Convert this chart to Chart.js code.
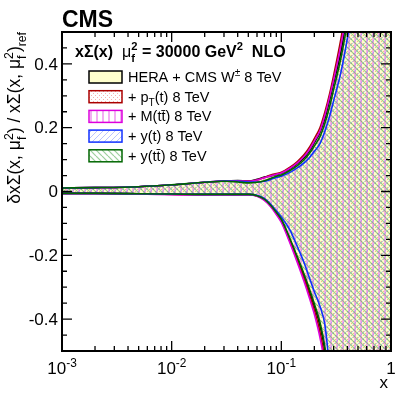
<!DOCTYPE html>
<html><head><meta charset="utf-8">
<script src="https://cdn.jsdelivr.net/npm/chart.js@4/dist/chart.umd.min.js"></script>
<style>html,body{margin:0;padding:0;background:#fff;overflow:hidden}</style>
</head><body>
<canvas id="c" width="411" height="396" style="width:411px;height:396px"></canvas>
<script>
// ---- data ----
const xValues = [0.001,0.002,0.005,0.01,0.02,0.03,0.04,0.05,0.06,0.07,0.08,0.09,0.1,0.12,0.14,0.16,0.18,0.2,0.225,0.25,0.275,0.3,0.35,0.4,0.5,0.7,1.0];

const heraUpper = [0.011,0.012,0.015,0.021,0.029,0.033,0.034,0.033,0.038,0.045,0.049,0.053,0.057,0.071,0.087,0.105,0.127,0.153,0.185,0.23,0.285,0.34,0.44,0.56,0.8,1.3,2.1];
const heraLower = [-0.006,-0.006,-0.007,-0.008,-0.009,-0.009,-0.009,-0.009,-0.013,-0.025,-0.044,-0.067,-0.09,-0.152,-0.21,-0.262,-0.312,-0.36,-0.42,-0.5,-0.62,-0.78,-1.0,-1.3,-1.8,-2.8,-3.8];

const ptUpper = [0.011,0.012,0.015,0.021,0.029,0.033,0.033,0.032,0.036,0.044,0.052,0.056,0.060,0.076,0.094,0.114,0.138,0.166,0.20,0.25,0.305,0.364,0.48,0.60,0.85,1.4,2.2];
const ptLower = [-0.006,-0.006,-0.007,-0.009,-0.010,-0.010,-0.010,-0.010,-0.014,-0.026,-0.046,-0.069,-0.093,-0.157,-0.217,-0.27,-0.322,-0.372,-0.44,-0.53,-0.66,-0.82,-1.05,-1.35,-1.9,-2.9,-3.9];

const mttUpper = [0.011,0.012,0.015,0.021,0.029,0.033,0.033,0.032,0.036,0.043,0.049,0.054,0.058,0.073,0.090,0.109,0.131,0.158,0.19,0.24,0.295,0.35,0.46,0.58,0.82,1.35,2.15];
const mttLower = [-0.007,-0.007,-0.008,-0.010,-0.011,-0.011,-0.011,-0.011,-0.015,-0.028,-0.048,-0.072,-0.097,-0.162,-0.223,-0.279,-0.333,-0.385,-0.458,-0.55,-0.7,-0.85,-1.1,-1.4,-2.0,-3.0,-4.0];

const ytUpper = [0.011,0.012,0.015,0.021,0.029,0.033,0.032,0.030,0.030,0.032,0.038,0.044,0.048,0.060,0.074,0.089,0.106,0.126,0.15,0.19,0.235,0.285,0.375,0.48,0.7,1.15,1.9];
const ytLower = [-0.006,-0.006,-0.007,-0.008,-0.009,-0.009,-0.009,-0.009,-0.012,-0.022,-0.040,-0.060,-0.080,-0.121,-0.173,-0.220,-0.270,-0.314,-0.36,-0.42,-0.56,-0.75,-1.0,-1.3,-1.8,-2.8,-3.8];

const yttUpper = [0.011,0.012,0.015,0.021,0.029,0.032,0.030,0.027,0.029,0.034,0.041,0.048,0.052,0.066,0.081,0.098,0.119,0.143,0.172,0.215,0.265,0.32,0.42,0.53,0.76,1.25,2.0];
const yttLower = [-0.006,-0.006,-0.007,-0.008,-0.009,-0.009,-0.009,-0.009,-0.013,-0.024,-0.043,-0.065,-0.087,-0.148,-0.205,-0.256,-0.305,-0.352,-0.41,-0.49,-0.61,-0.77,-1.0,-1.3,-1.8,-2.8,-3.8];

const yTicks = [-0.4,-0.2,0,0.2,0.4];
const yTickLabels = ['-0.4','-0.2','0','0.2','0.4'];
const xTicks = [0.001,0.01,0.1,1];
const xTickLabels = [['10','-3'],['10','-2'],['10','-1'],['1','']];

// ---- patterns ----
function makePattern(w,h,draw){const c=document.createElement('canvas');c.width=w;c.height=h;const g=c.getContext('2d');draw(g,w,h);return g.createPattern(c,'repeat');}
const patYellow = '#ffffcc';
const patRed = makePattern(4,4,(g)=>{g.fillStyle='rgba(240,110,110,0.55)';g.fillRect(1,1,1,1);g.fillRect(3,3,1,1);});
const patMag = makePattern(6,6,(g)=>{g.fillStyle='rgba(240,140,240,0.7)';g.fillRect(0,0,2,6);});
const patBlue = makePattern(6,6,(g)=>{g.strokeStyle='rgba(120,140,255,0.5)';g.lineWidth=1;for(const k of [-6,0,6]){g.beginPath();g.moveTo(k,6);g.lineTo(k+6,0);g.stroke();}});
const patGreen = makePattern(6,6,(g)=>{g.strokeStyle='rgba(90,175,90,0.6)';g.lineWidth=1.2;for(const k of [-6,0,6]){g.beginPath();g.moveTo(k,0);g.lineTo(k+6,6);g.stroke();}});

const series = [
  {up:heraUpper, lo:heraLower, col:'#000000', fill:patYellow, order:10},
  {up:ptUpper, lo:ptLower, col:'#aa0000', fill:patRed, order:8},
  {up:mttUpper, lo:mttLower, col:'#dd00dd', fill:patMag, order:6},
  {up:ytUpper, lo:ytLower, col:'#1030ff', fill:patBlue, order:4},
  {up:yttUpper, lo:yttLower, col:'#006600', fill:patGreen, order:2},
];
const datasets=[];
series.forEach((s,i)=>{
  datasets.push({data:xValues.map((x,j)=>({x,y:s.up[j]})), borderColor:s.col, backgroundColor:s.fill, borderWidth:1.6, pointRadius:0, fill:{target:2*i+1}, cubicInterpolationMode:'monotone', order:s.order});
  datasets.push({data:xValues.map((x,j)=>({x,y:s.lo[j]})), borderColor:s.col, backgroundColor:s.fill, borderWidth:1.6, pointRadius:0, fill:false, cubicInterpolationMode:'monotone', order:s.order-1});
});

const FONT='"Liberation Sans", Arial, sans-serif';
function rich(ctx,x,y,segs,size){
  let cx=x;
  for(const s of segs){
    const sz = (s.sup||s.sub)? size*0.7 : size;
    ctx.font=(s.b?'bold ':'')+sz+'px '+FONT;
    const dy = s.sup? -size*0.42 : (s.sub? size*0.32 : 0);
    ctx.fillText(s.t,cx,y+dy);
    if(!s.noadv) cx+=ctx.measureText(s.t).width;
  }
  return cx-x;
}
function richWidth(ctx,segs,size){
  let w=0;for(const s of segs){const sz=(s.sup||s.sub)?size*0.7:size;ctx.font=(s.b?'bold ':'')+sz+'px '+FONT;if(!s.noadv)w+=ctx.measureText(s.t).width;}return w;
}

const decor = {
  id:'decor',
  afterDraw(chart){
    const ctx=chart.ctx, a=chart.chartArea, xs=chart.scales.x, ys=chart.scales.y;
    ctx.save();
    ctx.fillStyle='#000';ctx.strokeStyle='#000';
    ctx.lineWidth=2;
    ctx.strokeRect(a.left,a.top,a.right-a.left,a.bottom-a.top);
    ctx.lineWidth=1.3;
    for(let k=-10;k<=10;k++){
      const v=k*0.05;
      const py=ys.getPixelForValue(v);
      const L=(k%4===0)?10:5;
      ctx.beginPath();ctx.moveTo(a.left,py);ctx.lineTo(a.left+L,py);ctx.moveTo(a.right,py);ctx.lineTo(a.right-L,py);ctx.stroke();
    }
    for(let d=-3;d<0;d++){
      for(let m=1;m<=9;m++){
        const v=m*Math.pow(10,d);const px=xs.getPixelForValue(v);
        const L=m===1?10:5;
        ctx.beginPath();ctx.moveTo(px,a.bottom);ctx.lineTo(px,a.bottom-L);ctx.moveTo(px,a.top);ctx.lineTo(px,a.top+L);ctx.stroke();
      }
    }
    ctx.font='17px '+FONT;ctx.textAlign='right';ctx.textBaseline='middle';
    yTicks.forEach((v,i)=>{ctx.fillText(yTickLabels[i],a.left-4,ys.getPixelForValue(v)+1);});
    ctx.textAlign='left';ctx.textBaseline='alphabetic';
    xTicks.forEach((v,i)=>{
      const segs=[{t:xTickLabels[i][0]}];
      if(xTickLabels[i][1]) segs.push({t:xTickLabels[i][1],sup:true});
      const w=richWidth(ctx,segs,17);
      rich(ctx,xs.getPixelForValue(v)-w/2,a.bottom+23,segs,17);
    });
    ctx.font='17px '+FONT;ctx.textAlign='right';
    ctx.fillText('x',a.right-3,a.bottom+37);
    ctx.textAlign='left';
    ctx.save();
    ctx.translate(20,a.top);ctx.rotate(-Math.PI/2);
    const ys1=[{t:'δxΣ(x, μ'},{t:'f',sub:true,noadv:true},{t:'2',sup:true},{t:') / xΣ(x, μ'},{t:'f',sub:true,noadv:true},{t:'2',sup:true},{t:')'},{t:'ref',sub:true}];
    const tw=richWidth(ctx,ys1,17.5);
    rich(ctx,-tw,0,ys1,17.5);
    ctx.restore();
    ctx.font='bold 23px '+FONT;ctx.fillText('CMS',a.left,27);
    rich(ctx,75,57,[{t:'xΣ(x)',b:true}],16);
    rich(ctx,122,57,[{t:'μ'},{t:'f',sub:true,b:true,noadv:true},{t:'2',sup:true,b:true}],16);
    rich(ctx,142,57,[{t:'= 30000 GeV',b:true},{t:'2',sup:true,b:true},{t:'  NLO',b:true}],16);
    const legTexts=[
      [{t:'HERA + CMS W'},{t:'±',sup:true},{t:' 8 TeV'}],
      [{t:'+ p'},{t:'T',sub:true},{t:'(t) 8 TeV'}],
      [{t:'+ M(tt\u0304) 8 TeV'}],
      [{t:'+ y(t) 8 TeV'}],
      [{t:'+ y(tt\u0304) 8 TeV'}],
    ];
    series.forEach((s,i)=>{
      const top=71+i*19.7;
      ctx.fillStyle='#fff';ctx.fillRect(89,top,33,12);
      ctx.fillStyle=s.fill;ctx.fillRect(89,top,33,12);
      ctx.strokeStyle=s.col;ctx.lineWidth=1.5;ctx.strokeRect(89,top,33,12);
      ctx.fillStyle='#000';
      rich(ctx,128,top+11,legTexts[i],14.5);
    });
    ctx.restore();
  }
};

new Chart(document.getElementById('c'),{
  type:'line',
  data:{datasets},
  options:{
    responsive:false, animation:false, devicePixelRatio:1,
    layout:{padding:{left:62,right:20,top:32,bottom:45}},
    plugins:{legend:{display:false},tooltip:{enabled:false},filler:{drawTime:'beforeDatasetsDraw'}},
    scales:{
      x:{type:'logarithmic',min:0.001,max:1,display:false},
      y:{type:'linear',min:-0.5,max:0.5,display:false}
    }
  },
  plugins:[decor]
});
</script>
</body></html>
